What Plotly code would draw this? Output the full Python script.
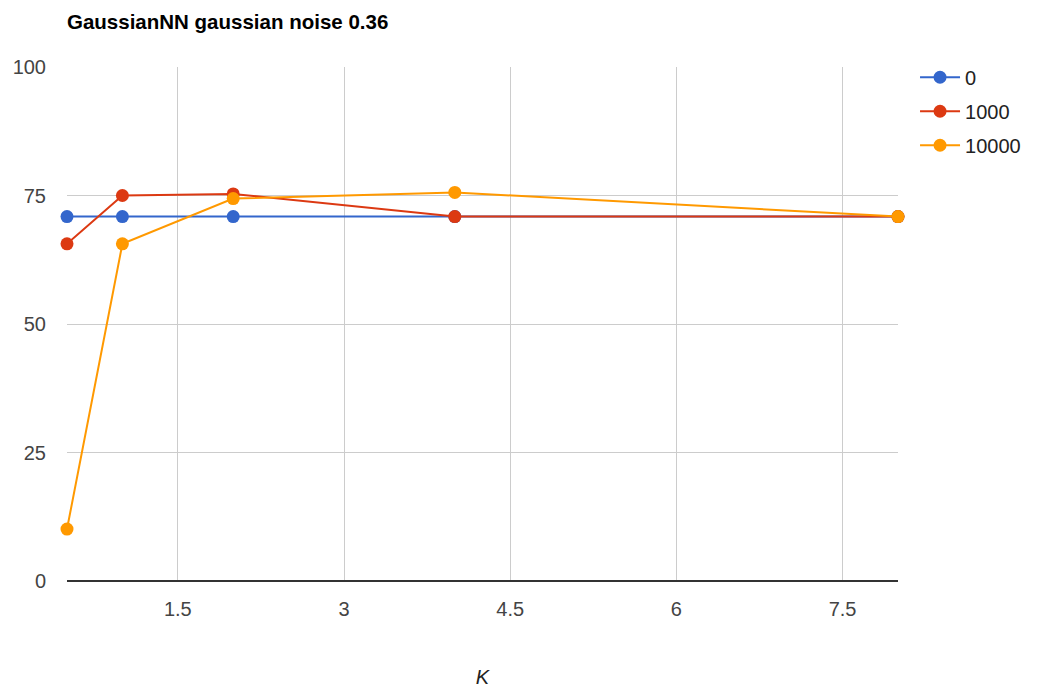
import plotly.graph_objects as go

# K values on the x axis
k_values = [0.5, 1, 2, 4, 8]

# accuracy for each noise-sample setting
series_names = ["0", "1000", "10000"]
acc_0 = [70.9, 70.9, 70.9, 70.9, 70.9]
acc_1000 = [65.6, 75.0, 75.3, 70.9, 70.9]
acc_10000 = [10.1, 65.6, 74.4, 75.6, 70.9]

colors = ["#3366cc", "#dc3912", "#ff9900"]

x_ticks = [1.5, 3, 4.5, 6, 7.5]
y_ticks = [0, 25, 50, 75, 100]

fig = go.Figure()
for name, vals, col in zip(series_names, [acc_0, acc_1000, acc_10000], colors):
    fig.add_trace(go.Scatter(
        x=k_values, y=vals, name=name, mode="lines+markers",
        line=dict(color=col, width=2),
        marker=dict(color=col, size=13),
        legendgroup=name,
        cliponaxis=False,
    ))

fig.update_layout(
    width=1039, height=693,
    margin=dict(l=67, r=141, t=67, b=112),
    paper_bgcolor="white", plot_bgcolor="white",
    font=dict(family="Liberation Sans, Arial, sans-serif", color="#444", size=20),
    title=dict(text="<b>GaussianNN gaussian noise 0.36</b>",
               x=67 / 1039, xanchor="left", y=1 - 22 / 693, yanchor="middle",
               font=dict(size=20.5, color="#000")),
    showlegend=True,
    legend=dict(x=1.0205, xanchor="left", y=1.018, yanchor="top",
                tracegroupgap=5, font=dict(size=20, color="#222"),
                itemwidth=40, bgcolor="rgba(0,0,0,0)"),
    xaxis=dict(range=[0.5, 8], tickvals=x_ticks, ticktext=[str(t) for t in x_ticks],
               showgrid=True, gridcolor="#cccccc", gridwidth=1,
               zeroline=False, showline=False, ticks="", automargin=False,
               tickfont=dict(size=20, color="#444"), ticklabelstandoff=14,
               title=dict(text="<i>K</i>", font=dict(size=20, color="#222"), standoff=50)),
    yaxis=dict(range=[0, 100], tickvals=y_ticks,
               showgrid=True, gridcolor="#cccccc", gridwidth=1,
               zeroline=True, zerolinecolor="#333333", zerolinewidth=2,
               showline=False, ticks="", automargin=False,
               tickfont=dict(size=20, color="#444"), ticklabelstandoff=20),
)

fig.write_html("out.html")
